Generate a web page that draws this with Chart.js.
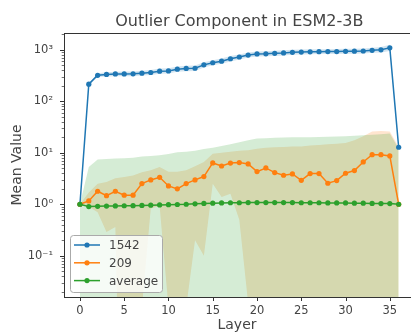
<!DOCTYPE html>
<html>
<head>
<meta charset="utf-8">
<script src="https://cdn.jsdelivr.net/npm/chart.js@4"></script>
<style>
  html, body { margin: 0; padding: 0; background: #fff; overflow: hidden; }
  canvas { display: block; }
</style>
</head>
<body>
<canvas id="chart" width="414" height="332"></canvas>
<script>
// layers on the x axis
const layers = [0,1,2,3,4,5,6,7,8,9,10,11,12,13,14,15,16,17,18,19,20,21,22,23,24,25,26,27,28,29,30,31,32,33,34,35,36];
const xTicks = [0, 5, 10, 15, 20, 25, 30, 35];

// component 1542
const s1542 = [1.0, 215, 320, 332, 340, 340, 342, 352, 362, 385, 388, 420, 435, 438, 510, 560, 600, 670, 725, 790,
  830, 835, 855, 870, 895, 905, 915, 920, 922, 925, 935, 940, 948, 975, 1000, 1090, 12.8];
const s1542Hi = [1.0, 225, 350, 365, 375, 378, 380, 392, 405, 432, 438, 472, 492, 498, 575, 630, 675, 755, 815, 885,
  930, 935, 960, 975, 1000, 1010, 1020, 1025, 1030, 1035, 1045, 1050, 1060, 1095, 1130, 1260, 14.0];
const s1542Lo = [1.0, 205, 295, 302, 308, 306, 308, 316, 324, 344, 346, 375, 385, 388, 455, 500, 535, 595, 648, 708,
  742, 748, 762, 778, 802, 812, 822, 826, 826, 830, 838, 842, 848, 872, 890, 950, 11.6];

// component 209
const s209 = [1.0, 1.16, 1.79, 1.47, 1.79, 1.5, 1.5, 2.52, 2.97, 3.34, 2.27, 1.99, 2.52, 2.97, 3.45, 6.34, 5.54, 6.3, 6.45, 6.06,
  4.31, 5.07, 4.12, 3.66, 3.88, 2.92, 3.94, 3.94, 2.56, 2.88, 4.0, 4.51, 6.63, 9.2, 9.2, 8.67, 1.0];
const s209Hi = [1.0, 1.7, 2.5, 2.7, 3.2, 3.4, 3.6, 4.2, 4.6, 5.3, 4.3, 4.3, 4.6, 5.5, 6.6, 9.6, 10.0, 10.5, 11.0, 11.2,
  12.0, 12.5, 12.8, 13.0, 13.2, 13.3, 13.8, 14.2, 14.6, 15.0, 15.5, 17.5, 21.0, 26.0, 26.5, 26.0, 13.0];
const s209Lo = [1.0, 0.89, 0.7, 0.29, 0.36, 1e-8, 1e-8, 0.01, 0.83, 0.92, 0.01, 1e-8, 0.01, 0.2, 0.1, 2.5, 1.39, 1.6, 0.5, 0.012,
  1e-8, 1e-8, 1e-8, 1e-8, 1e-8, 1e-8, 1e-8, 1e-8, 1e-8, 1e-8, 1e-8, 1e-8, 1e-8, 1e-8, 1e-8, 1e-8, 1e-8];

// average over all components
const sAvg = [1.0, 0.90, 0.91, 0.92, 0.93, 0.935, 0.94, 0.95, 0.96, 0.97, 0.98, 0.99, 1.0, 1.02, 1.04, 1.05, 1.06, 1.07, 1.07, 1.08,
  1.08, 1.08, 1.08, 1.08, 1.08, 1.07, 1.07, 1.07, 1.06, 1.06, 1.06, 1.05, 1.05, 1.04, 1.03, 1.03, 1.0];
const sAvgHi = [1.0, 5.3, 7.4, 7.6, 7.7, 7.8, 8.0, 8.5, 8.7, 9.0, 9.5, 10.2, 10.5, 11.0, 11.8, 12.5, 13.5, 14.6, 16.0, 17.5,
  18.9, 19.2, 19.5, 19.7, 20.0, 20.0, 20.0, 20.3, 20.5, 20.7, 21.0, 21.5, 22.0, 22.5, 23.0, 23.6, 12.0];
const sAvgLo = [1e-8, 1e-8, 1e-8, 1e-8, 1e-8, 1e-8, 1e-8, 1e-8, 1e-8, 1e-8, 1e-8, 1e-8, 1e-8, 1e-8, 1e-8, 1e-8, 1e-8, 1e-8, 1e-8, 1e-8,
  1e-8, 1e-8, 1e-8, 1e-8, 1e-8, 1e-8, 1e-8, 1e-8, 1e-8, 1e-8, 1e-8, 1e-8, 1e-8, 1e-8, 1e-8, 1e-8, 1e-8];

const seriesNames = ["1542", "209", "average"];
const colors = ["#1f77b4", "#ff7f0e", "#2ca02c"];
const bands = ["rgba(31,119,180,0.2)", "rgba(255,127,14,0.2)", "rgba(44,160,44,0.2)"];
const supers = { "-1": "\u207b\u00b9", "0": "\u2070", "1": "\u00b9", "2": "\u00b2", "3": "\u00b3" };
const txt = "#444";
const font = '"DejaVu Sans", sans-serif';

const pts = (arr) => arr.map((v, i) => ({ x: layers[i], y: v }));

//line with markers
const lineSet = (label, arr, c, order) => ({
  label: label, data: pts(arr), borderColor: c, backgroundColor: c,
  borderWidth: 1.5, pointRadius: 2.6, pointBorderWidth: 0, pointBackgroundColor: c,
  tension: 0, fill: false, order: order,
});
//shaded band: upper fills down to the next dataset (lower)
const bandSet = (arr, bg, fill, order) => ({
  label: "", data: pts(arr), borderColor: "transparent", borderWidth: 0,
  backgroundColor: bg, pointRadius: 0, tension: 0, fill: fill, order: order,
});

//title, extra ticks, top spine and legend drawn here
const decor = {
  id: "decor",
  afterDraw(chart) {
    const { ctx, chartArea: a, scales: { x, y } } = chart;
    ctx.save();
    ctx.strokeStyle = "#333";
    ctx.lineWidth = 1;
    ctx.beginPath();
    ctx.moveTo(a.left, a.top + 0.5);
    ctx.lineTo(a.right, a.top + 0.5);
    ctx.stroke();
    y.ticks.forEach((t) => {
      const py = Math.round(y.getPixelForValue(t.value)) + 0.5;
      ctx.lineWidth = t.major ? 1 : 0.7;
      ctx.beginPath();
      ctx.moveTo(a.left, py);
      ctx.lineTo(a.left - (t.major ? 4 : 2.3), py);
      ctx.stroke();
    });
    ctx.lineWidth = 1;
    x.ticks.forEach((t) => {
      const px = Math.round(x.getPixelForValue(t.value)) + 0.5;
      ctx.beginPath();
      ctx.moveTo(px, a.bottom);
      ctx.lineTo(px, a.bottom + 4);
      ctx.stroke();
    });
    //title centred over the whole axes box
    const cx = (x.getPixelForValue(-1.8) + x.getPixelForValue(37.8)) / 2;
    ctx.fillStyle = txt;
    ctx.font = "16px " + font;
    ctx.textAlign = "center";
    ctx.textBaseline = "alphabetic";
    ctx.fillText("Outlier Component in ESM2-3B", cx, 26);
    //legend
    const bx = 70, by = 235, bw = 92, bh = 57;
    ctx.beginPath();
    ctx.roundRect(bx + 0.5, by + 0.5, bw, bh, 3);
    ctx.fillStyle = "rgba(255,255,255,0.8)";
    ctx.fill();
    ctx.strokeStyle = "#aaa";
    ctx.stroke();
    ctx.font = "12px " + font;
    ctx.textAlign = "left";
    ctx.textBaseline = "middle";
    seriesNames.forEach((n, i) => {
      const ly = by + 10 + i * 17.8;
      ctx.strokeStyle = colors[i];
      ctx.lineWidth = 1.5;
      ctx.beginPath();
      ctx.moveTo(bx + 4, ly);
      ctx.lineTo(bx + 30, ly);
      ctx.stroke();
      ctx.fillStyle = colors[i];
      ctx.beginPath();
      ctx.arc(bx + 17, ly, 2.6, 0, Math.PI * 2);
      ctx.fill();
      ctx.fillStyle = txt;
      ctx.fillText(n, bx + 39, ly + 1);
    });
    ctx.restore();
  },
};

new Chart(document.getElementById("chart"), {
  type: "line",
  plugins: [decor],
  data: {
    datasets: [
      lineSet(seriesNames[2], sAvg, colors[2], 0),
      lineSet(seriesNames[1], s209, colors[1], 1),
      lineSet(seriesNames[0], s1542, colors[0], 2),
      bandSet(sAvgHi, bands[2], "+1", 3),
      bandSet(sAvgLo, bands[2], false, 3),
      bandSet(s209Hi, bands[1], "+1", 4),
      bandSet(s209Lo, bands[1], false, 4),
      bandSet(s1542Hi, bands[0], "+1", 5),
      bandSet(s1542Lo, bands[0], false, 5),
    ],
  },
  options: {
    responsive: false,
    animation: false,
    devicePixelRatio: 1,
    layout: { padding: { top: 33, left: 0, right: 0, bottom: 0 } },
    plugins: { legend: { display: false }, tooltip: { enabled: false }, title: { display: false } },
    scales: {
      x: {
        type: "linear", min: -1.8, max: 37.28,
        afterFit: (s) => { s.height = 35; },
        afterBuildTicks: (s) => { s.ticks = xTicks.map((v) => ({ value: v })); },
        grid: { display: false, drawTicks: true, tickLength: 4 },
        border: { display: true, color: "#333", width: 1 },
        ticks: { color: txt, font: { family: font, size: 11.5 }, padding: 3, maxRotation: 0, autoSkip: false },
        title: { display: true, text: "Layer", color: txt, font: { family: font, size: 14, lineHeight: 1 }, padding: { top: 0, bottom: 0 } },
      },
      y: {
        type: "logarithmic", min: 0.0158, max: 2120,
        afterFit: (s) => { s.width = 64; },
        afterBuildTicks: (s) => {
          const t = [];
          for (let d = -2; d <= 3; d++) {
            for (let m = 1; m <= 9; m++) {
              const v = m * Math.pow(10, d);
              if (v >= s.min && v <= s.max) t.push({ value: v, major: m === 1, exp: d });
            }
          }
          s.ticks = t;
        },
        grid: { display: false, drawTicks: true, tickLength: 4 },
        border: { display: true, color: "#333", width: 1 },
        ticks: {
          color: txt, font: { family: font, size: 11.5 }, padding: 7, autoSkip: false,
          callback: function (v, i, ticks) {
            const t = ticks[i];
            return t.major ? "10" + supers[String(t.exp)] : "";
          },
        },
        title: { display: true, text: "Mean Value", color: txt, font: { family: font, size: 14, lineHeight: 1 }, padding: { top: 10, bottom: 0 } },
      },
    },
  },
});
</script>
</body>
</html>
